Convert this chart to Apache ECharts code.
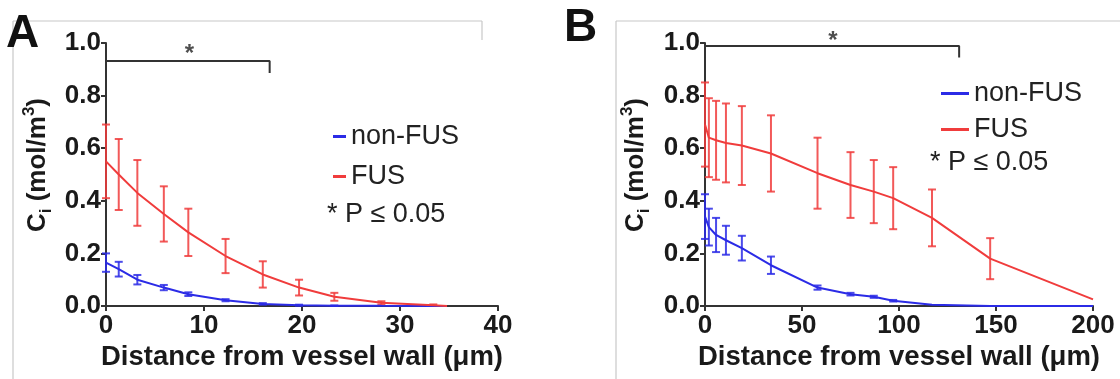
<!DOCTYPE html>
<html>
<head>
<meta charset="utf-8">
<script src="https://cdn.jsdelivr.net/npm/echarts@6/dist/echarts.min.js"></script>
<style>
  html, body { margin: 0; padding: 0; background: #fff; }
  #chart { width: 1120px; height: 379px; }
</style>
</head>
<body>
<div id="chart"></div>
<script>
// ---- panel A (distance 0-40 um) ----
const distA      = [0, 1.3, 3.2, 5.9, 8.4, 12.2, 16.0, 19.7, 23.3, 28.1, 33.4, 34.8];
const fusA       = [0.55, 0.50, 0.43, 0.35, 0.28, 0.19, 0.12, 0.07, 0.035, 0.012, 0.003, 0];
const fusErrA    = [0.14, 0.135, 0.125, 0.105, 0.09, 0.065, 0.05, 0.03, 0.015, 0.006, 0.003, 0];
const nonFusA    = [0.165, 0.14, 0.10, 0.07, 0.045, 0.022, 0.008, 0.003, 0.001, 0.0005, 0, 0];
const nonFusErrA = [0.035, 0.028, 0.018, 0.01, 0.007, 0.004, 0.003, 0.002, 0.001, 0, 0, 0];
const bracketAX  = [0, 0, 16.7, 16.7];
const bracketAY  = [0.886, 0.932, 0.932, 0.886];
const starA      = [8.5, 0.955];

// ---- panel B (distance 0-200 um) ----
const distB      = [0, 2, 5.7, 10.8, 19, 34, 58, 75, 87, 97, 117, 147, 200];
const fusB       = [0.69, 0.64, 0.63, 0.62, 0.61, 0.58, 0.505, 0.46, 0.435, 0.41, 0.335, 0.18, 0.025];
const fusErrB    = [0.16, 0.15, 0.15, 0.15, 0.15, 0.145, 0.135, 0.125, 0.12, 0.118, 0.108, 0.078, 0];
const nonFusB    = [0.34, 0.30, 0.27, 0.25, 0.22, 0.155, 0.07, 0.045, 0.035, 0.02, 0.005, 0, 0];
const nonFusErrB = [0.085, 0.07, 0.065, 0.055, 0.047, 0.033, 0.008, 0.005, 0.004, 0.003, 0, 0, 0];
const bracketBX  = [0, 0, 131, 131];
const bracketBY  = [0.945, 0.989, 0.989, 0.945];
const starB      = [66, 1.008];

const RED = '#f03c3c';
const BLUE = '#2b2be6';
const FONT = '"Liberation Sans", Arial, sans-serif';

const zip = (xs, ys) => xs.map((x, i) => [x, ys[i]]);
const errData = (xs, m, e) => xs.map((x, i) => [x, m[i] - e[i], m[i] + e[i]]).filter((d, i) => e[i] > 0);

function errorBars(color) {
  return function (params, api) {
    const x = api.value(0);
    const lo = api.coord([x, api.value(1)]);
    const hi = api.coord([x, api.value(2)]);
    const w = 4;
    const style = { stroke: color, lineWidth: 2, opacity: 0.85 };
    return {
      type: 'group',
      children: [
        { type: 'line', shape: { x1: lo[0], y1: lo[1], x2: hi[0], y2: hi[1] }, style },
        { type: 'line', shape: { x1: lo[0] - w, y1: lo[1], x2: lo[0] + w, y2: lo[1] }, style },
        { type: 'line', shape: { x1: hi[0] - w, y1: hi[1], x2: hi[0] + w, y2: hi[1] }, style }
      ]
    };
  };
}

function xAxis(gi, max, interval) {
  return {
    gridIndex: gi, type: 'value', min: 0, max: max, interval: interval,
    name: 'Distance from vessel wall (\u03bcm)', nameLocation: 'middle', nameGap: 36,
    nameTextStyle: { fontSize: 27.5, fontWeight: 'bold', color: '#1a1a1a', fontFamily: FONT },
    axisLine: { lineStyle: { color: '#333', width: 2 } },
    axisTick: { length: 5, lineStyle: { color: '#333', width: 2 } },
    axisLabel: { fontSize: 26, fontWeight: 'bold', color: '#1a1a1a', fontFamily: FONT, margin: 7 },
    splitLine: { show: false }
  };
}
function yAxis(gi) {
  return {
    gridIndex: gi, type: 'value', min: 0, max: 1, interval: 0.2,
    axisLine: { show: true, lineStyle: { color: '#333', width: 2 } },
    axisTick: { show: true, length: 5, lineStyle: { color: '#333', width: 2 } },
    axisLabel: { fontSize: 26, fontWeight: 'bold', color: '#1a1a1a', fontFamily: FONT, margin: 5,
      formatter: v => v.toFixed(1) },
    splitLine: { show: false }
  };
}

function lineSeries(name, gi, xs, ys, color, smooth) {
  return {
    name, type: 'line', xAxisIndex: gi, yAxisIndex: gi, data: zip(xs, ys),
    showSymbol: false, smooth: smooth, clip: false,
    lineStyle: { color, width: 2 }, itemStyle: { color }, z: 3
  };
}
function errSeries(gi, xs, m, e, color) {
  return {
    type: 'custom', xAxisIndex: gi, yAxisIndex: gi, data: errData(xs, m, e),
    renderItem: errorBars(color), z: 2, silent: true
  };
}
function bracket(gi, xs, ys) {
  return {
    type: 'line', xAxisIndex: gi, yAxisIndex: gi, data: zip(xs, ys), clip: false,
    showSymbol: false, lineStyle: { color: '#333', width: 2 }, silent: true, z: 4
  };
}
function star(gi, pt) {
  return {
    type: 'scatter', xAxisIndex: gi, yAxisIndex: gi, data: [pt], symbolSize: 0, clip: false,
    silent: true,
    label: { show: true, position: 'inside', formatter: '*', fontSize: 24, fontWeight: 'bold',
      color: '#222', fontFamily: FONT }
  };
}

const yTitle = '{b|C}{s|i}{b| (mol/m}{p|3}{b|)}';
const yTitleRich = {
  b: { fontSize: 26, fontWeight: 'bold', fontFamily: FONT, fill: '#1a1a1a', lineHeight: 34 },
  s: { fontSize: 17, fontWeight: 'bold', fontFamily: FONT, fill: '#1a1a1a', lineHeight: 34, verticalAlign: 'bottom' },
  p: { fontSize: 17, fontWeight: 'bold', fontFamily: FONT, fill: '#1a1a1a', lineHeight: 34, verticalAlign: 'top' }
};
const legendText = { fontSize: 27, color: '#222', fontFamily: FONT };
const frame = { stroke: '#c8c8c8', lineWidth: 1.2 };

const chart = echarts.init(document.getElementById('chart'));
chart.setOption({
  animation: false,
  textStyle: { fontFamily: FONT },
  grid: [
    { left: 106, right: 622, top: 43, bottom: 73 },
    { left: 705, right: 27, top: 43, bottom: 73 }
  ],
  xAxis: [xAxis(0, 40, 10), xAxis(1, 200, 50)],
  yAxis: [yAxis(0), yAxis(1)],
  legend: [
    { data: ['non-FUS', 'FUS'], orient: 'vertical', left: 328, top: 118, itemGap: 13,
      icon: 'rect', itemWidth: 13, itemHeight: 3, textStyle: legendText },
    { data: ['non-FUS', 'FUS'], orient: 'vertical', left: 936, top: 75, itemGap: 9,
      icon: 'rect', itemWidth: 28, itemHeight: 3, textStyle: legendText }
  ],
  graphic: [
    { type: 'line', shape: { x1: 13, y1: 21, x2: 482, y2: 21 }, style: frame },
    { type: 'line', shape: { x1: 13, y1: 21, x2: 13, y2: 379 }, style: frame },
    { type: 'line', shape: { x1: 482, y1: 21, x2: 482, y2: 40 }, style: frame },
    { type: 'line', shape: { x1: 616, y1: 21, x2: 1120, y2: 21 }, style: frame },
    { type: 'line', shape: { x1: 616, y1: 21, x2: 616, y2: 379 }, style: frame },
    { type: 'text', x: 6, y: 11, style: { text: 'A', fontSize: 46, fontWeight: 'bold', fontFamily: FONT, fill: '#111' } },
    { type: 'text', x: 564, y: 5, style: { text: 'B', fontSize: 46, fontWeight: 'bold', fontFamily: FONT, fill: '#111' } },
    { type: 'text', x: 38, y: 165, rotation: Math.PI / 2,
      style: { text: yTitle, rich: yTitleRich, align: 'center', verticalAlign: 'middle' } },
    { type: 'text', x: 636, y: 165, rotation: Math.PI / 2,
      style: { text: yTitle, rich: yTitleRich, align: 'center', verticalAlign: 'middle' } },
    { type: 'text', x: 327, y: 215, style: { text: '* P \u2264 0.05', fontSize: 27, fontFamily: FONT, fill: '#222', verticalAlign: 'middle' } },
    { type: 'text', x: 930, y: 163, style: { text: '* P \u2264 0.05', fontSize: 27, fontFamily: FONT, fill: '#222', verticalAlign: 'middle' } }
  ],
  series: [
    errSeries(0, distA, nonFusA, nonFusErrA, BLUE),
    errSeries(0, distA, fusA, fusErrA, RED),
    lineSeries('non-FUS', 0, distA, nonFusA, BLUE, false),
    lineSeries('FUS', 0, distA, fusA, RED, false),
    bracket(0, bracketAX, bracketAY),
    star(0, starA),
    errSeries(1, distB, nonFusB, nonFusErrB, BLUE),
    errSeries(1, distB, fusB, fusErrB, RED),
    lineSeries('non-FUS', 1, distB, nonFusB, BLUE, false),
    lineSeries('FUS', 1, distB, fusB, RED, false),
    bracket(1, bracketBX, bracketBY),
    star(1, starB)
  ]
});
</script>
</body>
</html>
